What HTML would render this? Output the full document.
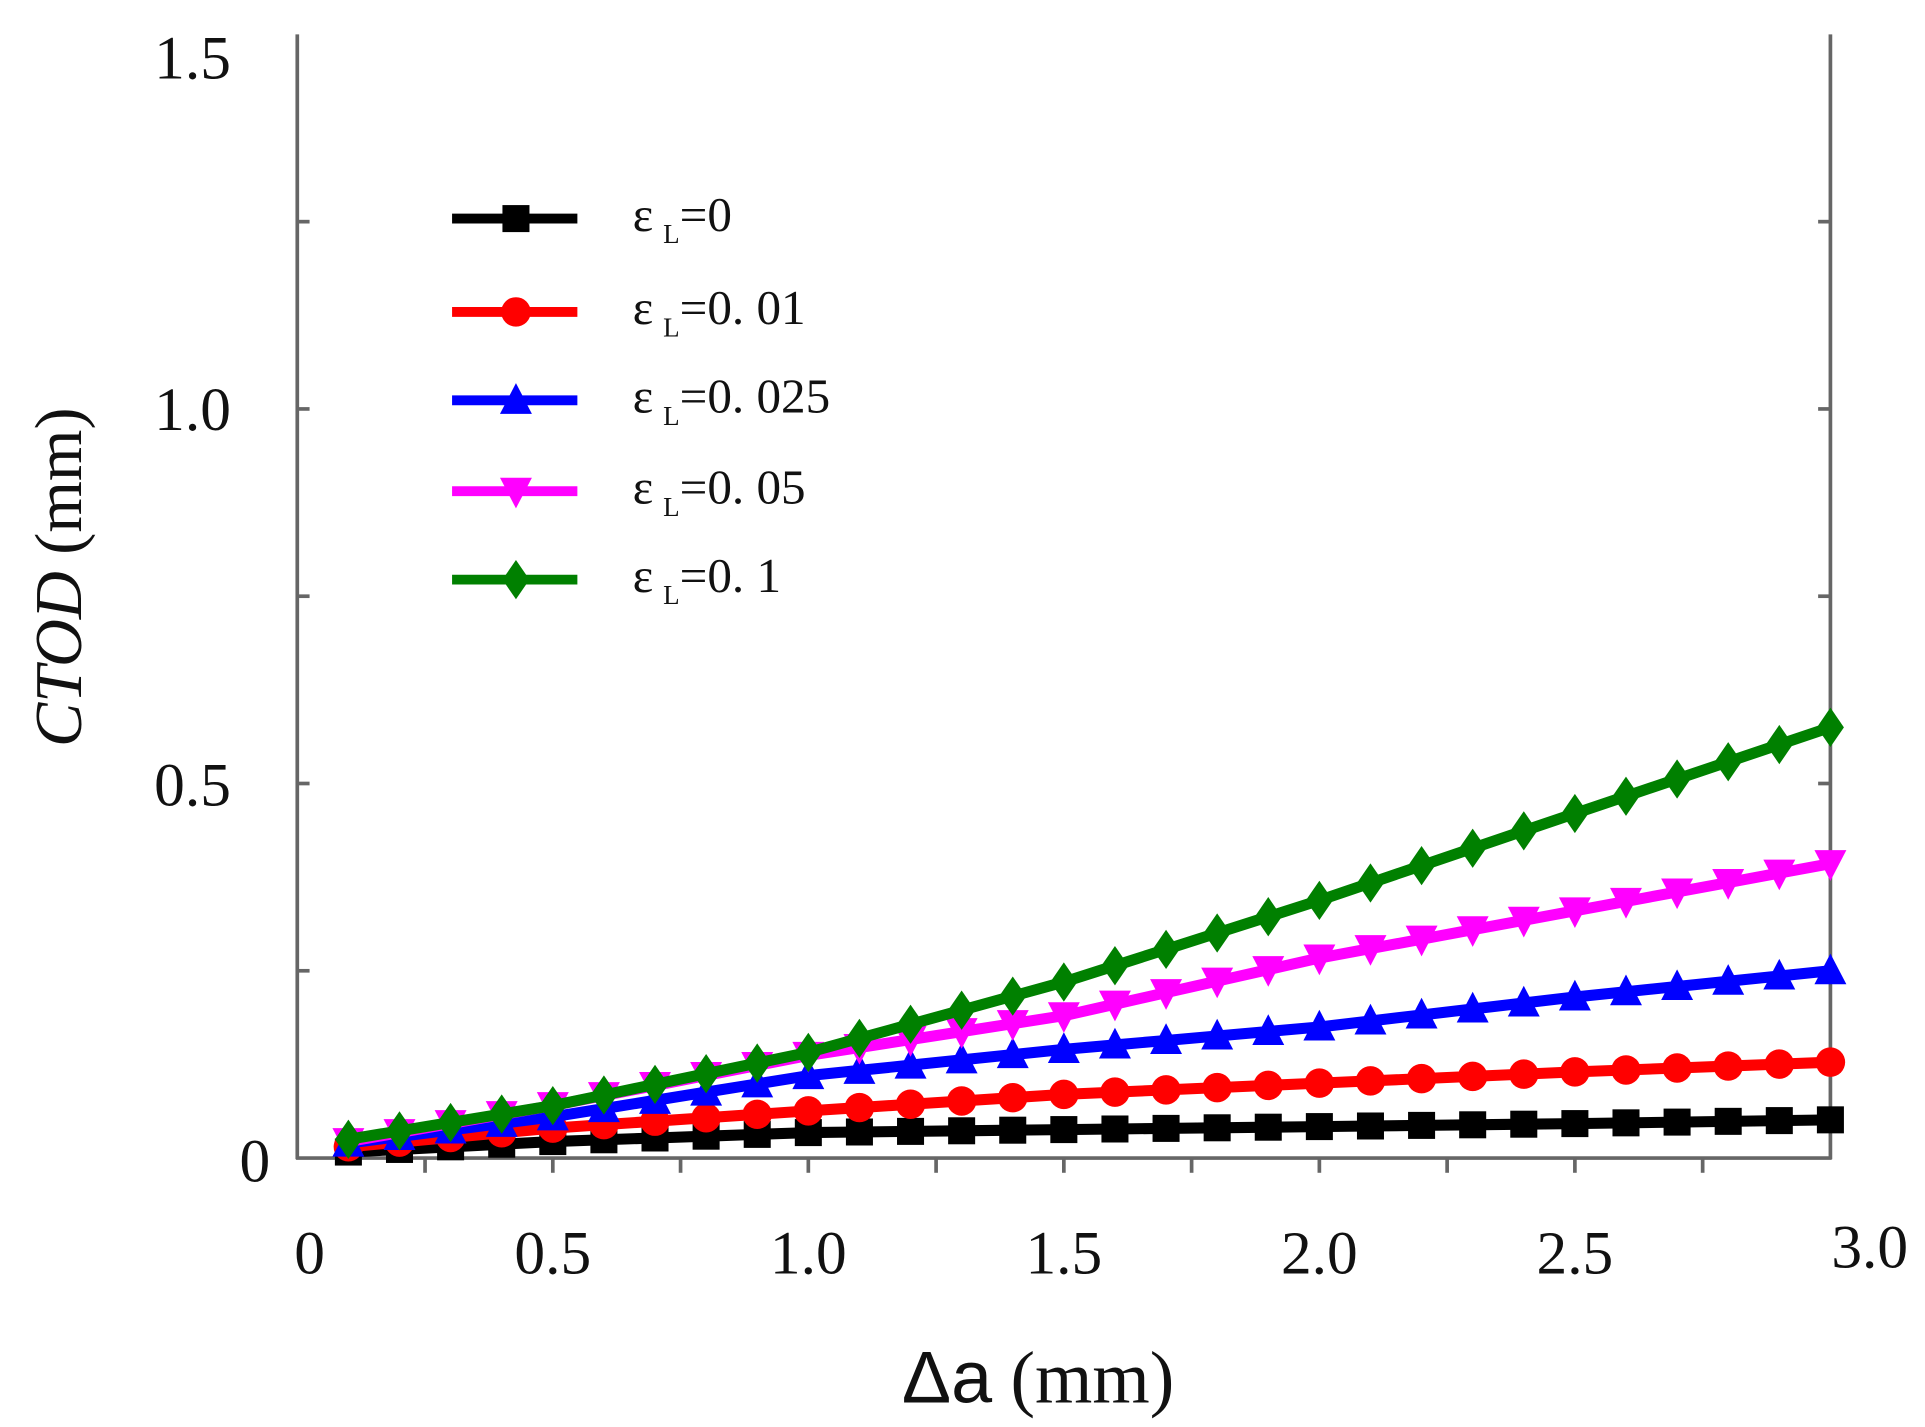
<!DOCTYPE html>
<html><head><meta charset="utf-8"><style>html,body{margin:0;padding:0;background:#fff}svg{display:block}</style></head>
<body>
<svg id="s" width="1925" height="1427" viewBox="0 0 1567 1162" preserveAspectRatio="none" xmlns="http://www.w3.org/2000/svg">
<rect width="1567" height="1162" fill="#fff"/>
<g stroke="#666" stroke-width="3" fill="none">
<line x1="242" y1="28" x2="242" y2="944"/>
<line x1="1490" y1="28" x2="1490" y2="944"/>
<line x1="241" y1="943" x2="1491" y2="943"/>
</g>
<g id="ticks" stroke="#666" stroke-width="3"></g>
<g font-family="Liberation Serif, serif" font-size="50" fill="#111" text-anchor="end">
<text x="188" y="64">1.5</text>
<text x="188" y="350">1.0</text>
<text x="188" y="656">0.5</text>
<text x="220" y="962">0</text>
</g>
<g font-family="Liberation Serif, serif" font-size="50" fill="#111" text-anchor="middle">
<text x="252" y="1037">0</text>
<text x="450" y="1037">0.5</text>
<text x="658" y="1037">1.0</text>
<text x="866" y="1037">1.5</text>
<text x="1074" y="1037">2.0</text>
<text x="1282" y="1037">2.5</text>
<text x="1522" y="1032">3.0</text>
</g>
<text x="845" y="1142" text-anchor="middle" font-size="60" fill="#111" font-family="Liberation Serif, serif"><tspan font-family="Liberation Sans, sans-serif">Δa</tspan> (mm)</text>
<text transform="translate(66,470) rotate(-90)" text-anchor="middle" font-size="54" fill="#111" font-family="Liberation Serif, serif"><tspan font-style="italic">CTOD</tspan>  (mm)</text>
<g id="series"></g>
<g id="legend" font-family="Liberation Serif, serif" font-size="40" fill="#111"></g>
</svg>
<script>
var NS="http://www.w3.org/2000/svg";
function el(p,n,a){var e=document.createElementNS(NS,n);for(var k in a)e.setAttribute(k,a[k]);p.appendChild(e);return e;}
var X=function(v){return 242+v*416;},Y=function(v){return 943-v*610;};
var t=document.getElementById('ticks');
for(var i=1;i<12;i++){var x=242+i*104;el(t,'line',{x1:x,y1:943,x2:x,y2:955});}
for(var j=1;j<6;j++){var y=943-j*152.5;el(t,'line',{x1:242,y1:y,x2:252,y2:y});el(t,'line',{x1:1480,y1:y,x2:1490,y2:y});}
var S=[
{c:'#000',m:'sq',p:[[0.1,0.008],[0.5,0.022],[1,0.034],[1.5,0.038],[2,0.042],[2.5,0.046],[3,0.051]]},
{c:'#ff0000',m:'ci',p:[[0.1,0.015],[0.5,0.04],[1,0.063],[1.5,0.085],[2,0.1],[2.5,0.115],[3,0.128]]},
{c:'#0000ff',m:'tu',p:[[0.1,0.02],[0.5,0.055],[1,0.11],[1.5,0.145],[2,0.175],[2.5,0.215],[3,0.25]]},
{c:'#ff00ff',m:'td',p:[[0.1,0.022],[0.5,0.07],[1,0.137],[1.5,0.19],[2,0.267],[2.5,0.33],[3,0.393]]},
{c:'#008000',m:'di',p:[[0.1,0.025],[0.5,0.07],[1,0.141],[1.5,0.235],[2,0.344],[2.5,0.46],[3,0.575]]}];
function interp(p,x){for(var i=0;i<p.length-1;i++){if(x<=p[i+1][0]+1e-9){var f=(x-p[i][0])/(p[i+1][0]-p[i][0]);return p[i][1]+f*(p[i+1][1]-p[i][1]);}}return p[p.length-1][1];}
function mk(g,type,x,y,c){var r=11;
if(type=='sq')el(g,'rect',{x:x-r,y:y-r,width:2*r,height:2*r,fill:c});
else if(type=='ci')el(g,'circle',{cx:x,cy:y,r:r+1,fill:c});
else if(type=='tu')el(g,'polygon',{points:(x)+','+(y-r-3)+' '+(x+r+2)+','+(y+r)+' '+(x-r-2)+','+(y+r),fill:c});
else if(type=='td')el(g,'polygon',{points:(x)+','+(y+r+3)+' '+(x+r+2)+','+(y-r)+' '+(x-r-2)+','+(y-r),fill:c});
else el(g,'polygon',{points:x+','+(y-r-5)+' '+(x+r)+','+y+' '+x+','+(y+r+5)+' '+(x-r)+','+y,fill:c});}
var g=document.getElementById('series');
S.forEach(function(s){var pts=[];for(var k=1;k<=30;k++){var x=k*0.1;pts.push([X(x),Y(interp(s.p,x))]);}
el(g,'polyline',{points:pts.map(function(q){return q.join(',')}).join(' '),fill:'none',stroke:s.c,'stroke-width':9,'stroke-linejoin':'round'});
pts.forEach(function(q){mk(g,s.m,q[0],q[1],s.c);});});
var L=document.getElementById('legend');var labs=['0','0. 01','0. 025','0. 05','0. 1'];var ly=[178,254,326,400,472];
S.forEach(function(s,i){el(L,'line',{x1:368,y1:ly[i],x2:470,y2:ly[i],stroke:s.c,'stroke-width':8});mk(L,s.m,420,ly[i],s.c);
var tx=el(L,'text',{x:515,y:ly[i]+10});tx.innerHTML='ε<tspan font-size="22" dx="8" dy="10">L</tspan><tspan dy="-10">='+labs[i]+'</tspan>';});
</script>
</body></html>
